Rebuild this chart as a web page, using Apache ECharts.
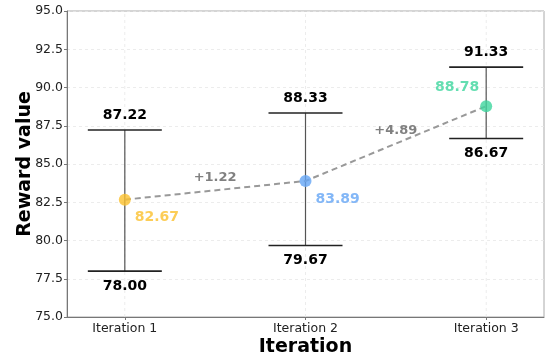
<!DOCTYPE html>
<html><head><meta charset="utf-8">
<script src="https://cdn.jsdelivr.net/npm/echarts@6/dist/echarts.min.js"></script>
<style>html,body{margin:0;padding:0;background:#fff}#c{width:547px;height:358px}</style>
</head><body><div id="c"></div>
<script>
const categories = ["Iteration 1", "Iteration 2", "Iteration 3"];
const means = [82.67, 83.89, 88.78];
const lows = [78.00, 79.67, 86.67];
const highs = [87.22, 88.33, 91.33];
const deltas = ["+1.22", "+4.89"];
const colors = ["#FBC02D", "#64A5F5", "#3DD69E"];

const FONT = "DejaVu Sans";
const chart = echarts.init(document.getElementById('c'), null, {renderer: 'canvas'});
const idx = categories.map((_, i) => i);

const option = {
  animation: false,
  grid: {left: 67, right: 3, top: 11, bottom: 41, show: true, borderColor: '#aaa', borderWidth: 1, outerBoundsMode: 'none', containLabel: false},
  xAxis: {
    type: 'value', min: -0.32, max: 2.32,
    name: 'Iteration', nameLocation: 'middle', nameGap: 21, nameMoveOverlap: false,
    nameTextStyle: {fontFamily: FONT, fontWeight: 'bold', fontSize: 19, color: '#000'},
    axisLine: {show: true, onZero: false, lineStyle: {color: '#777'}},
    axisTick: {show: true, customValues: idx, length: 3, lineStyle: {color: '#777'}},
    axisLabel: {customValues: idx, formatter: v => categories[Math.round(v)], fontFamily: FONT, fontSize: 12.5, color: '#222', margin: 5},
    splitLine: {show: false}
  },
  yAxis: {
    type: 'value', min: 75, max: 95, interval: 2.5,
    name: 'Reward value', nameLocation: 'middle', nameGap: 32, nameMoveOverlap: false,
    nameTextStyle: {fontFamily: FONT, fontWeight: 'bold', fontSize: 19, color: '#000'},
    axisLine: {show: true, onZero: false, lineStyle: {color: '#777'}},
    axisTick: {show: true, length: 3, lineStyle: {color: '#777'}},
    axisLabel: {formatter: v => v.toFixed(1), fontFamily: FONT, fontSize: 12.5, color: '#222', margin: 4},
    splitLine: {show: true, lineStyle: {color: '#e8e8e8', type: [3, 3], width: 0.8}}
  },
  series: [
    { // vertical grid lines
      type: 'custom', silent: true, z: 0,
      data: idx.map(i => [i]),
      renderItem: (params, api) => {
        const x = api.coord([api.value(0), 75])[0];
        const y0 = api.coord([0, 75])[1], y1 = api.coord([0, 95])[1];
        return {type: 'line', shape: {x1: x, y1: y0, x2: x, y2: y1}, style: {stroke: '#e8e8e8', lineWidth: 0.8, lineDash: [3, 3]}};
      }
    },
    { // error bars
      type: 'custom', z: 2,
      data: idx.map(i => [i, lows[i], highs[i]]),
      renderItem: (params, api) => {
        const lo = api.coord([api.value(0), api.value(1)]);
        const hi = api.coord([api.value(0), api.value(2)]);
        const w = 37;
        return {type: 'group', children: [
          {type: 'line', shape: {x1: lo[0], y1: lo[1], x2: hi[0], y2: hi[1]}, style: {stroke: '#555', lineWidth: 1.2}},
          {type: 'line', shape: {x1: lo[0]-w, y1: lo[1], x2: lo[0]+w, y2: lo[1]}, style: {stroke: '#222', lineWidth: 1.6}},
          {type: 'line', shape: {x1: hi[0]-w, y1: hi[1], x2: hi[0]+w, y2: hi[1]}, style: {stroke: '#222', lineWidth: 1.6}},
          {type: 'text', style: {text: highs[params.dataIndex].toFixed(2), x: hi[0], y: hi[1]-15, align: 'center', verticalAlign: 'middle', font: 'bold 14px "DejaVu Sans"', fill: '#000'}},
          {type: 'text', style: {text: lows[params.dataIndex].toFixed(2), x: lo[0], y: lo[1]+15, align: 'center', verticalAlign: 'middle', font: 'bold 14px "DejaVu Sans"', fill: '#000'}}
        ]};
      }
    },
    { // dashed trend line
      type: 'line', z: 3, symbol: 'none',
      data: idx.map(i => [i, means[i]]),
      lineStyle: {color: '#999', width: 2, type: [6, 4]}
    },
    { // delta annotations
      type: 'custom', z: 4,
      data: [0, 1].map(i => [i, means[i], means[i+1]]),
      renderItem: (params, api) => {
        const a = api.coord([api.value(0), api.value(1)]);
        const b = api.coord([api.value(0) + 1, api.value(2)]);
        const mx = (a[0]+b[0])/2, my = (a[1]+b[1])/2;
        return {type: 'text', style: {text: deltas[params.dataIndex], x: mx, y: my-13, align: 'center', verticalAlign: 'middle', font: 'bold 13px "DejaVu Sans"', fill: '#808080'}};
      }
    },
    { // mean points
      type: 'scatter', z: 5, symbolSize: 12,
      data: idx.map(i => ({
        value: [i, means[i]],
        itemStyle: {color: colors[i]},
        label: {
          show: true, formatter: means[i].toFixed(2), color: colors[i],
          fontFamily: FONT, fontWeight: 'bold', fontSize: 14,
          position: i === 2 ? [-1, -13] : [16, 24],
          align: i === 2 ? 'right' : 'left', verticalAlign: 'middle'
        }
      }))
    }
  ]
};
chart.setOption(option);
</script></body></html>
